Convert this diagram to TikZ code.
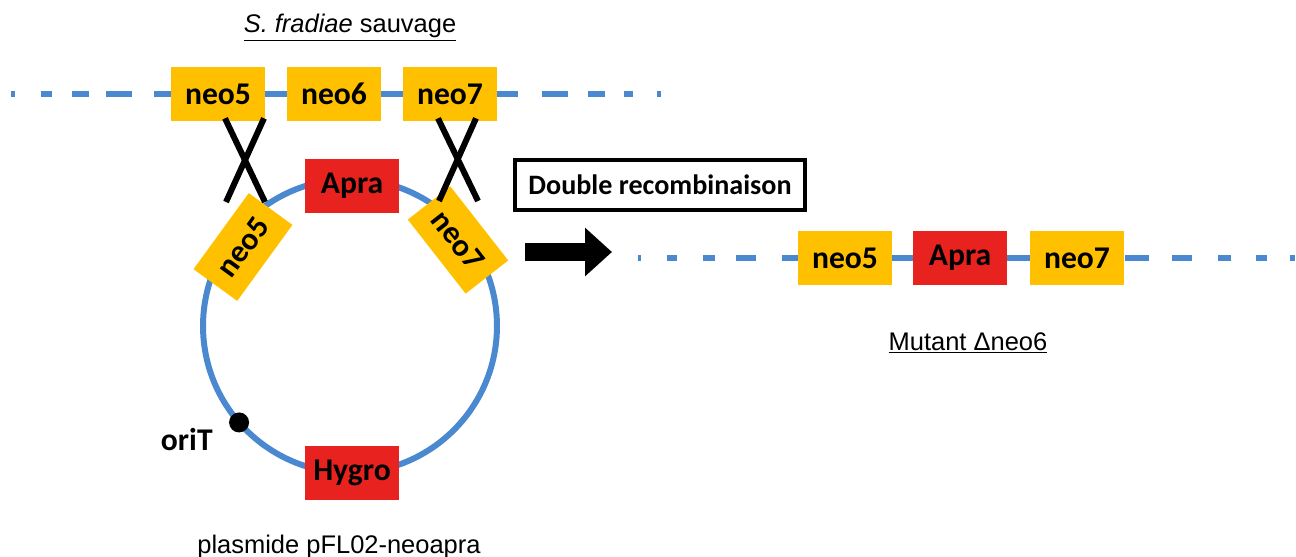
\documentclass[tikz,border=0pt]{standalone}
\usepackage{fontspec}
\setmainfont{Liberation Sans}
\newfontfamily\calib{Carlito}
\usepackage{xcolor}
\usetikzlibrary{arrows.meta,positioning,calc,backgrounds}
\definecolor{dnaBlue}{HTML}{4A89CF}
\definecolor{geneGold}{HTML}{FFC000}
\definecolor{geneRed}{HTML}{E8231F}

\begin{document}
\begin{tikzpicture}[
  x=0.02cm,y=-0.02cm,
  dna/.style={draw=dnaBlue,line width=3.8pt},
  gene/.style={fill=geneGold,minimum width=1.88cm,minimum height=1.08cm,inner sep=0,
               font=\calib\bfseries\fontsize{18}{20}\selectfont},
  marker/.style={gene,fill=geneRed},
  xo/.style={draw=black,line width=3.4pt},
  lab/.style={font=\fontsize{14.5}{17}\selectfont}
]
\useasboundingbox (0,0) rectangle (1296,556);

% wild type chromosome
\node[lab] (wt) at (350,28) {\underline{\textit{S. fradiae} sauvage}};
\node[gene] (t5) at (218,94) {neo5};
\node[gene] (t6) at (334,94) {neo6};
\node[gene] (t7) at (450,94) {neo7};

% plasmid
\node[circle,draw=dnaBlue,line width=3.4pt,minimum size=5.88cm,inner sep=0,outer sep=0] (pl) at (350,326) {};
\node[marker] (apra) at (352,186) {Apra};
\node[marker] (hygro) at (352,473) {Hygro};
\node[gene,rotate=54] (p5) at (243,247) {neo5};
\node[gene,rotate=-52] (p7) at (458,240) {neo7};
\node[circle,fill=black,minimum size=0.4cm,inner sep=0] (ori) at (pl.221) {};
\node[font=\calib\bfseries\fontsize{18}{20}\selectfont,anchor=east,inner sep=0] (oriT) at (213,440) {oriT};
\node[lab,anchor=north,inner sep=0] (pname) at (339,535) {\underline{plasmide pFL02-neoapra}};

% crossing over
\draw[xo] ($(t5.south)+(7,-3)$) -- ($(p5.center)+(22,-45)$);
\draw[xo] ($(t5.south)+(46,-3)$) -- ($(p5.center)+(-17,-45)$);
\draw[xo] ($(t7.south)+(-12,-3)$) -- ($(p7.center)+(20,-39)$);
\draw[xo] ($(t7.south)+(26,-3)$) -- ($(p7.center)+(-19,-39)$);

% recombination
\node[draw=black,line width=2pt,minimum width=5.8cm,minimum height=1cm,
      font=\calib\bfseries\fontsize{16}{18}\selectfont] (dr) at (660,185) {Double recombinaison};
\coordinate (a0) at (525,252);
\coordinate (a1) at (612,252);
\draw[line width=0.36cm,-{Triangle[length=0.54cm,width=0.94cm]}] (a0) -- (a1);

% mutant chromosome
\node[gene] (m5) at (845,258) {neo5};
\node[marker] (ma) at (960,258) {Apra};
\node[gene] (m7) at (1077,258) {neo7};
\node[lab] (mut) at (968,343) {\underline{Mutant Δneo6}};

\begin{scope}[on background layer]
  \draw[dna] (t5.east) -- (t7.west);
  \foreach \a/\b in {11/15,41/52,72/89,106/132,154/172,497/518,542/568,588/605,624/633,657/661}
    \draw[dna] (\a,94) -- (\b,94);
  \draw[dna] (m5.east) -- (m7.west);
  \foreach \a/\b in {638/641,667/677,703/715,736/756,782/798,1125/1149,1172/1192,1218/1231,1256/1267,1290/1295}
    \draw[dna] (\a,258) -- (\b,258);
\end{scope}
\end{tikzpicture}
\end{document}
